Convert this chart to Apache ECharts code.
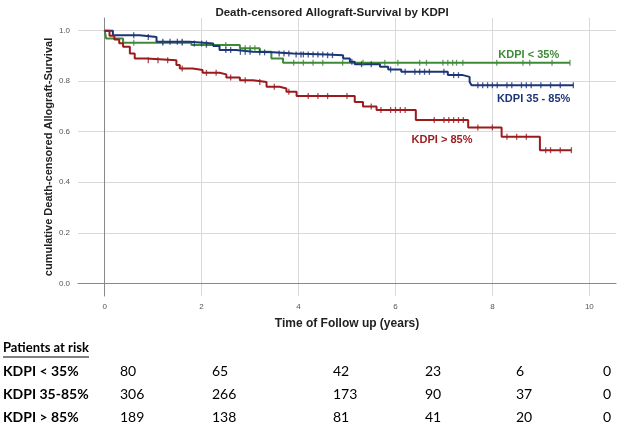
<!DOCTYPE html>
<html><head><meta charset="utf-8">
<script src="https://cdn.jsdelivr.net/npm/echarts@6/dist/echarts.min.js"></script>
<style>html,body{margin:0;padding:0;background:#fff}#c{width:619px;height:422px}</style>
</head><body><div id="c"></div>
<script>
// ---- Data ----
const titleText = 'Death-censored Allograft-Survival by KDPI';
const xAxisName = 'Time of Follow up (years)';
const yAxisName = 'cumulative Death-censored Allograft-Survival';
const seriesNames = ['KDPI < 35%', 'KDPI 35 - 85%', 'KDPI > 85%'];

// Kaplan-Meier step points [time (years), survival]
const kmLow = [[0,1.0],[0.03,0.969],[0.38,0.952],[1.79,0.943],[2.79,0.930],[3.2,0.916],[3.44,0.89],[3.68,0.873],[9.6,0.873]];
const kmMid = [[0,1.0],[0.17,0.982],[0.72,0.975],[1.07,0.956],[1.75,0.949],[2.24,0.939],[2.37,0.923],[2.71,0.916],[3.06,0.914],[3.47,0.91],[3.89,0.906],[4.58,0.903],[4.92,0.89],[5.06,0.877],[5.16,0.867],[5.68,0.857],[5.85,0.846],[6.12,0.837],[7.08,0.824],[7.39,0.817],[7.53,0.797],[7.57,0.784],[9.67,0.784]];
const kmHigh = [[0,1.0],[0.1,0.98],[0.2,0.965],[0.3,0.95],[0.38,0.936],[0.52,0.91],[0.62,0.89],[0.86,0.883],[1.48,0.864],[1.55,0.85],[1.82,0.844],[2.02,0.833],[2.37,0.827],[2.51,0.815],[2.79,0.804],[3.06,0.797],[3.34,0.778],[3.61,0.771],[3.75,0.758],[3.96,0.741],[5.16,0.718],[5.33,0.70],[5.61,0.686],[6.42,0.646],[7.5,0.617],[8.19,0.58],[8.98,0.527],[9.63,0.527]];

// Censoring times (years)
const censLow = [0.6,1.2,1.6,2.1,2.5,2.9,3.0,3.1,3.9,4.1,4.3,4.5,4.91,5.33,5.78,6.05,6.5,6.64,6.98,7.08,7.18,7.26,7.39,8.09,8.63,8.77,9.23,9.6];
const censMid = [0.6,0.9,1.2,1.35,1.5,1.6,1.85,2.0,2.1,2.5,2.6,2.8,2.9,3.0,3.2,3.3,3.6,3.7,3.8,3.95,4.05,4.1,4.2,4.3,4.4,4.5,4.6,4.7,5.1,5.3,5.5,5.9,6.2,6.4,6.5,6.6,6.7,7.0,7.2,7.3,7.7,7.8,7.9,8.0,8.1,8.3,8.4,8.6,8.7,8.8,9.0,9.2,9.4,9.67];
const censHigh = [0.9,1.1,1.3,1.6,2.1,2.3,2.6,2.9,3.2,3.5,3.8,4.2,4.4,4.6,5.0,5.5,5.7,5.9,6.0,6.1,6.2,6.8,7.0,7.1,7.2,7.3,7.4,7.7,8.0,8.3,8.5,8.7,9.1,9.2,9.4,9.63];

// Patients at risk table
const riskHeader = 'Patients at risk';
const riskLabels = ['KDPI < 35%', 'KDPI 35-85%', 'KDPI > 85%'];
const riskLow  = [80, 65, 42, 23, 6, 0];
const riskMid  = [306, 266, 173, 90, 37, 0];
const riskHigh = [189, 138, 81, 41, 20, 0];

// ---- Rendering ----
const colors = ['#3f8a36', '#1c3577', '#9a1b1e'];
function survAt(km, t) {
  let s = km[0][1];
  for (const p of km) { if (p[0] <= t) s = p[1]; else break; }
  return s;
}
function lineSeries(name, km, color) {
  return { name, type: 'line', step: 'end', data: km, symbol: 'none',
    lineStyle: { color, width: 2 }, z: 3, animation: false };
}
function censSeries(name, km, cens, color) {
  return { name: name + ' censored', type: 'scatter', data: cens.map(t => [t, survAt(km, t)]),
    symbol: 'rect', symbolSize: [1.3, 6], itemStyle: { color }, z: 4, animation: false };
}
const chart = echarts.init(document.getElementById('c'), null, { renderer: 'canvas' });
const tableFont = 'Lato, "Open Sans", sans-serif';
const colX = [120, 212, 333, 425, 516, 603];
const rowY = [371, 394, 417];
const graphics = [
  { type: 'text', left: 3, top: 341, style: { text: riskHeader, font: 'bold 13px ' + tableFont, fill: '#000' } },
  { type: 'line', shape: { x1: 3, y1: 357, x2: 89, y2: 357 }, style: { stroke: '#000', lineWidth: 1 } }
];
const riskRows = [riskLow, riskMid, riskHigh];
riskLabels.forEach((lab, i) => {
  graphics.push({ type: 'text', x: 3, y: rowY[i], style: { text: lab, font: 'bold 14px ' + tableFont, fill: '#000', verticalAlign: 'middle' } });
  riskRows[i].forEach((v, j) => {
    graphics.push({ type: 'text', x: colX[j], y: rowY[i], style: { text: String(v), font: '14px ' + tableFont, fill: '#000', verticalAlign: 'middle' } });
  });
});
const option = {
  backgroundColor: '#fff',
  animation: false,
  title: { text: titleText, left: 327, top: 2, textAlign: 'center',
    textStyle: { fontFamily: 'Liberation Sans, Arial', fontWeight: 'bold', fontSize: 11.5, color: '#222' } },
  grid: { left: 78, right: 3, top: 18, bottom: 126 },
  xAxis: { type: 'value', min: -0.55, max: 10.55, name: xAxisName, nameLocation: 'middle', nameGap: 22,
    nameTextStyle: { fontFamily: 'Liberation Sans, Arial', fontWeight: 'bold', fontSize: 12, color: '#222' },
    axisLine: { show: true, lineStyle: { color: '#888' } }, axisTick: { show: false },
    axisLabel: { color: '#555', fontSize: 8, margin: 7, fontFamily: 'Liberation Sans, Arial',
      formatter: v => (Math.abs(v - Math.round(v)) < 1e-6 ? String(Math.round(v)) : '') },
    splitLine: { show: true, showMinLine: false, showMaxLine: false, lineStyle: { color: '#d9d9d9' } } },
  yAxis: { type: 'value', min: -0.05, max: 1.05, name: yAxisName, nameLocation: 'middle', nameGap: 24,
    nameMoveOverlap: false,
    nameTextStyle: { fontFamily: 'Liberation Sans, Arial', fontWeight: 'bold', fontSize: 11, color: '#222' },
    axisLine: { show: true, lineStyle: { color: '#888' } }, axisTick: { show: false },
    axisLabel: { color: '#555', fontSize: 8, margin: 8, fontFamily: 'Liberation Sans, Arial',
      formatter: v => (Math.abs(v * 5 - Math.round(v * 5)) < 1e-6 ? v.toFixed(1) : '') },
    splitLine: { show: true, showMinLine: false, showMaxLine: false, lineStyle: { color: '#d9d9d9' } } },
  series: [
    lineSeries(seriesNames[0], kmLow, colors[0]),
    lineSeries(seriesNames[1], kmMid, colors[1]),
    lineSeries(seriesNames[2], kmHigh, colors[2]),
    censSeries(seriesNames[0], kmLow, censLow, colors[0]),
    censSeries(seriesNames[1], kmMid, censMid, colors[1]),
    censSeries(seriesNames[2], kmHigh, censHigh, colors[2])
  ],
  graphic: graphics
};
chart.setOption(option);
// Curve labels placed next to the curves via the chart's own scale
const labelDefs = [[seriesNames[0], 8.75, 0.905, colors[0]], [seriesNames[1], 8.85, 0.73, colors[1]], [seriesNames[2], 6.96, 0.566, colors[2]]];
const extra = labelDefs.map(([txt, x, y, c]) => {
  const p = chart.convertToPixel({ gridIndex: 0 }, [x, y]);
  return { type: 'text', x: p[0], y: p[1], style: { text: txt, font: 'bold 11px "Liberation Sans", Arial', fill: c, align: 'center', verticalAlign: 'middle' } };
});
chart.setOption({ graphic: graphics.concat(extra) });
</script></body></html>
